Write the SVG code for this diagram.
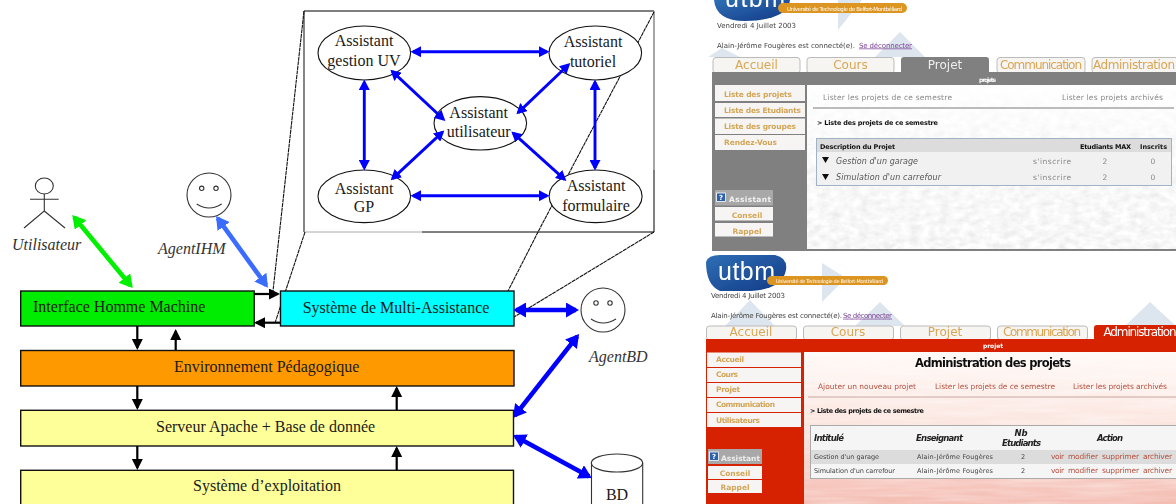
<svg xmlns="http://www.w3.org/2000/svg" width="1176" height="504" viewBox="0 0 1176 504">
<style>
text{font-family:"Liberation Serif","Times New Roman",serif;fill:#1a1a1a}
.t{font-size:16px}
.c{text-anchor:middle}
.i{font-style:italic;font-size:16px;fill:#333}
.n{stroke:#111;stroke-width:1.1;fill:#fff}
.box{stroke:#111;stroke-width:1.4}
.u{fill:none;stroke:#333;stroke-width:1.1}
.lead{fill:none;stroke:#111;stroke-width:1.1;stroke-dasharray:4 .6}
.b{stroke:#0000ff;stroke-width:2.9;fill:none;marker-start:url(#hb);marker-end:url(#hb)}
.B{stroke:#0000ff;stroke-width:4.6;fill:none;marker-start:url(#hB);marker-end:url(#hB)}
.k{stroke:#000;stroke-width:2.2;fill:none;marker-end:url(#hk)}
.w text,.w2 text{font-family:"DejaVu Sans",Verdana,sans-serif;fill:#444;font-size:7px}
.w .tab,.w2 .tab{font-size:12px;fill:#d9a654;text-anchor:middle}
.w .m,.w2 .m{font-weight:bold;fill:#d3a658;font-size:7.5px}
.w .bk,.w2 .bk{font-weight:bold;fill:#111;font-size:6.5px}
.w .l{font-size:7.5px;fill:#888}
.w2 .l{font-size:7.5px;fill:#b5503f}
.w .r{font-style:italic;font-size:8px;fill:#555}
.w2 .h{font-style:italic;font-weight:bold;font-size:8.5px;fill:#222}
.w2 .s{font-size:6.5px;fill:#444}
.w .logo,.w2 .logo{font-family:"Liberation Sans",Arial,sans-serif;font-size:25px;fill:#fff}
.w .q,.w2 .q{font-size:7px;font-weight:bold;fill:#fff;text-anchor:middle}
.tabb{fill:#f7f5f2;stroke:#bbb;stroke-width:1}
.mb{fill:#f6f5f3}
.tri{fill:#dde6ef}
</style>
<defs>
<marker id="hb" markerUnits="userSpaceOnUse" markerWidth="11" markerHeight="11" refX="8" refY="5.5" orient="auto-start-reverse"><path d="M0 0L10.5 5.5L0 11z" fill="#0000ff"/></marker>
<marker id="hB" markerUnits="userSpaceOnUse" markerWidth="15" markerHeight="15" refX="10" refY="7.5" orient="auto-start-reverse"><path d="M0 0L13 7.5L0 15z" fill="#0000ff"/></marker>
<marker id="hG" markerUnits="userSpaceOnUse" markerWidth="15" markerHeight="15" refX="10" refY="7.5" orient="auto-start-reverse"><path d="M0 0L13 7.5L0 15z" fill="#00f000"/></marker>
<marker id="hL" markerUnits="userSpaceOnUse" markerWidth="15" markerHeight="15" refX="10" refY="7.5" orient="auto-start-reverse"><path d="M0 0L13 7.5L0 15z" fill="#3a6cff"/></marker>
<marker id="hk" markerUnits="userSpaceOnUse" markerWidth="12" markerHeight="12" refX="9" refY="5.5" orient="auto"><path d="M0 0L11 5.5L0 11z" fill="#000"/></marker>
<filter id="paper" x="0" y="0" width="1" height="1"><feTurbulence type="fractalNoise" baseFrequency=".1 .16" numOctaves="3" seed="4"/><feColorMatrix type="matrix" values=".3 0 0 0 .78 .3 0 0 0 .78 .3 0 0 0 .78 0 0 0 0 1"/></filter>
<filter id="stripe" x="0" y="0" width="1" height="1"><feTurbulence type="fractalNoise" baseFrequency=".015 .2" numOctaves="2" seed="7"/><feColorMatrix type="matrix" values="0 0 0 0 1 0 0 0 0 1 0 0 0 0 1 1.6 0 0 0 -.55"/></filter>
<filter id="soft" x="0" y="0" width="1" height="1"><feGaussianBlur stdDeviation=".45"/></filter>
<linearGradient id="fade" x1="0" y1="0" x2="0" y2="1"><stop offset="0" stop-color="#fff" stop-opacity=".95"/><stop offset=".45" stop-color="#fff" stop-opacity=".25"/><stop offset="1" stop-color="#fff" stop-opacity="0"/></linearGradient>
<linearGradient id="pink" x1="0" y1="0" x2="0" y2="1"><stop offset="0" stop-color="#fffaf7"/><stop offset=".5" stop-color="#fbe4de"/><stop offset="1" stop-color="#f4bdb2"/></linearGradient>
<linearGradient id="logo" x1="0" y1="0" x2="1" y2="1"><stop offset="0" stop-color="#2f6fb5"/><stop offset="1" stop-color="#123a86"/></linearGradient>
</defs>

<g id="frame" fill="none">
<path d="M304 11H654" stroke="#555" stroke-width="1.3"/>
<path d="M304 11V232" stroke="#333" stroke-width="1.2"/>
<path d="M304 232H422" stroke="#aaa" stroke-width="1"/>
<path d="M422 232H654" stroke="#000" stroke-width="1"/>
<path d="M654 11V170" stroke="#777" stroke-width="1.3"/>
<path d="M654 170V232" stroke="#000" stroke-width="1"/>
</g>
<g id="leaders">
<path class="lead" d="M304 11L273 291"/>
<path class="lead" d="M305 232L275 323"/>
<path class="lead" d="M654 12L538 232L507 293"/>
<path class="lead" d="M654 232L514 317"/>
</g>

<g id="node-gestion"><ellipse class="n" cx="364.300" cy="53" rx="46.300" ry="27"/><text class="t c" x="364" y="46">Assistant</text><text class="t c" x="364" y="66">gestion UV</text></g>
<g id="node-tutoriel"><ellipse class="n" cx="595.300" cy="53" rx="46.300" ry="27"/><text class="t c" x="593" y="46.700">Assistant</text><text class="t c" x="593" y="66.700">tutoriel</text></g>
<g id="node-utilisateur"><ellipse class="n" cx="480.300" cy="123.300" rx="46.300" ry="26.700"/><text class="t c" x="478.700" y="117.700">Assistant</text><text class="t c" x="478.700" y="137.300">utilisateur</text></g>
<g id="node-gp"><ellipse class="n" cx="364.300" cy="196.300" rx="46.300" ry="26.300"/><text class="t c" x="364" y="193.700">Assistant</text><text class="t c" x="364" y="212">GP</text></g>
<g id="node-formulaire"><ellipse class="n" cx="595.600" cy="196.300" rx="46.500" ry="26.300"/><text class="t c" x="596" y="191">Assistant</text><text class="t c" x="596" y="210.700">formulaire</text></g>

<g id="node-utilisateur-actor">
<ellipse class="u" cx="44.300" cy="186" rx="9" ry="8"/>
<path class="u" d="M30 199.300H58.700M44.300 194V211L24 228M44.300 211L65 228"/>
<text class="i" x="12" y="250">Utilisateur</text>
</g>
<g id="node-agentihm">
<circle class="u" cx="209" cy="195" r="22"/><circle class="u" cx="201.700" cy="188.300" r="2.200"/><circle class="u" cx="216" cy="188.300" r="2.200"/>
<path class="u" d="M196.700 204Q209 212 221.700 204"/>
<text class="i" x="158" y="254">AgentIHM</text>
</g>
<g id="node-agentbd">
<circle class="u" cx="603" cy="310" r="22"/><circle class="u" cx="596" cy="303" r="2.200"/><circle class="u" cx="610" cy="303" r="2.200"/>
<path class="u" d="M591 319Q603 327 616 319"/>
<text class="i" x="589" y="362">AgentBD</text>
</g>
<g id="node-bd">
<path class="u" d="M591.500 463V510M642.700 463V510"/>
<ellipse class="u" cx="617" cy="463" rx="25.700" ry="9"/>
<text class="t c" x="617" y="500">BD</text>
</g>

<g id="node-ihm"><rect class="box" x="20.700" y="291" width="233.500" height="35" fill="#00ec00"/><text class="t" x="33" y="311.700">Interface Homme Machine</text></g>
<g id="node-multi"><rect class="box" x="280.500" y="291" width="233.500" height="35" fill="#00ffff"/><text class="t" x="302.700" y="312.700">Système de Multi-Assistance</text></g>
<g id="node-env"><rect class="box" x="20.700" y="350.500" width="493.300" height="35.500" fill="#ff9900"/><text class="t" x="174" y="371.700">Environnement Pédagogique</text></g>
<g id="node-serveur"><rect class="box" x="20.700" y="410.300" width="492.800" height="35.700" fill="#ffff99"/><text class="t" x="156" y="431.700">Serveur Apache + Base de donnée</text></g>
<g id="node-os"><rect class="box" x="20.700" y="470.300" width="492.800" height="45" fill="#ffff99"/><text class="t" x="193" y="491">Système d’exploitation</text></g>

<g id="connectors">
<path class="b" d="M413 51.700H547"/>
<path class="b" d="M413 195.700H547"/>
<path class="b" d="M364.300 82V168"/>
<path class="b" d="M595 82V168"/>
<path class="b" d="M392.200 71.400L443.500 119.300"/>
<path class="b" d="M568.500 64.700L518.200 112.600"/>
<path class="b" d="M442.500 132.100L392.500 178.600"/>
<path class="b" d="M513.200 133.100L564.500 179.300"/>
<path d="M74.200 217.300L130.800 285.700" stroke="#00f000" stroke-width="4.600" fill="none" marker-start="url(#hG)" marker-end="url(#hG)"/>
<path d="M217.800 218.400L266.200 285.300" stroke="#3a6cff" stroke-width="4.600" fill="none" marker-start="url(#hL)" marker-end="url(#hL)"/>
<path class="B" d="M516 310H576"/>
<path class="B" d="M577.200 336.400L514.800 415.600"/>
<path class="B" d="M515.600 436.400L589.100 476.600"/>
<path class="k" d="M254 294H278"/>
<path class="k" d="M280 322.700H256"/>
<path class="k" d="M137.300 326V348"/>
<path class="k" d="M175.700 350V331"/>
<path class="k" d="M137.300 386V408"/>
<path class="k" d="M396.700 410V388"/>
<path class="k" d="M137.300 446V468"/>
<path class="k" d="M396.700 470V448"/>
</g>

<g id="screen-projet" class="w" filter="url(#soft)">
<path class="tri" d="M838 0V30L862 0zM900 32L875 57H925zM722 48L708 57H740z"/>
<path d="M714 0H790Q788 20 745 21Q716 21 714 0z" fill="url(#logo)"/>
<text class="logo" x="725" y="7" textLength="60">utbm</text>
<rect x="778" y="3" width="129" height="10" rx="5" fill="#dd9520"/>
<text x="787" y="10.500" textLength="115" style="font-size:5.5px;fill:#fff">Université de Technologie de Belfort-Montbéliard</text>
<text x="717" y="28" textLength="79">Vendredi 4 Juillet 2003</text>
<text x="717" y="47.500" textLength="138">Alain-Jérôme Fougères est connecté(e).</text>
<text x="859" y="47.500" textLength="53" text-decoration="underline" style="fill:#7a3f92">Se déconnecter</text>
<rect class="tabb" x="713" y="57.500" width="87" height="16" rx="3"/>
<rect class="tabb" x="807" y="57.500" width="87" height="16" rx="3"/>
<rect x="901" y="57" width="88" height="17" rx="3" fill="#808080"/>
<rect class="tabb" x="997" y="57.500" width="88" height="16" rx="3"/>
<rect class="tabb" x="1092" y="57.500" width="90" height="16" rx="3"/>
<text class="tab" x="756.500" y="69">Accueil</text><text class="tab" x="850.500" y="69">Cours</text><text class="tab" x="945" y="69" style="fill:#eee">Projet</text><text class="tab" x="1041" y="69" textLength="82">Communication</text><text class="tab" x="1134" y="69" textLength="82">Administration</text>
<rect x="712" y="72" width="464" height="179" fill="#808080"/>
<text x="979" y="82" textLength="17" style="fill:#fff;font-weight:bold;font-size:6px">projets</text>
<rect x="807" y="85" width="369" height="164" filter="url(#paper)"/>
<rect x="807" y="85" width="369" height="164" fill="url(#fade)"/>
<path d="M813 108H1174" stroke="#bbb" stroke-width="2"/>
<g class="mb"><rect x="715" y="85" width="90" height="16"/><rect x="715" y="103" width="90" height="14"/><rect x="715" y="118.500" width="90" height="15.500"/><rect x="715" y="135" width="90" height="15"/></g>
<text class="m" x="724" y="96.700" textLength="68">Liste des projets</text>
<text class="m" x="724" y="112.700" textLength="77">Liste des Etudiants</text>
<text class="m" x="724" y="129.300" textLength="72">Liste des groupes</text>
<text class="m" x="724" y="145" textLength="53">Rendez-Vous</text>
<text class="l" x="823" y="100" textLength="129">Lister les projets de ce semestre</text>
<text class="l" x="1062" y="100" textLength="101">Lister les projets archivés</text>
<text class="bk" x="817" y="125" textLength="121">&gt; Liste des projets de ce semestre</text>
<rect x="816.500" y="138.500" width="355" height="47" fill="#f1f1f1" stroke="#9fb2c6"/>
<rect x="817" y="139" width="354" height="13" fill="#dcdcdc"/>
<text class="bk" x="820" y="149" textLength="75">Description du Projet</text>
<text class="bk" x="1080" y="149" textLength="51">Etudiants MAX</text>
<text class="bk" x="1140" y="149" textLength="27">Inscrits</text>
<path d="M822 157H829L825.500 163zM822 174H829L825.500 180z" fill="#111"/>
<text class="r" x="836" y="163.700" textLength="82">Gestion d'un garage</text>
<text class="r" x="836" y="180" textLength="105">Simulation d'un carrefour</text>
<text class="l" x="1033" y="163.700" textLength="38">s'inscrire</text><text class="l" x="1033" y="180" textLength="38">s'inscrire</text>
<text class="l c" x="1105" y="163.700">2</text><text class="l c" x="1105" y="180">2</text>
<text class="l c" x="1153" y="163.700">0</text><text class="l c" x="1153" y="180">0</text>
<rect x="715" y="190" width="58" height="15.500" fill="#a8a8a8"/>
<rect x="716.500" y="193" width="9" height="8.500" fill="#2f62a8" stroke="#fff" stroke-width=".8"/>
<text class="q" x="721" y="200">?</text>
<text x="729" y="201.500" textLength="42" style="fill:#f2f2f2;font-weight:bold;font-size:7.500px">Assistant</text>
<rect class="mb" x="715" y="207" width="58" height="13.500"/><rect class="mb" x="715" y="223" width="58" height="13.500"/>
<text class="m c" x="747" y="217.500">Conseil</text><text class="m c" x="747" y="233.500">Rappel</text>
</g>

<g id="screen-admin" class="w2" filter="url(#soft)">
<path class="tri" d="M822 263V302L846 278zM880 302L855 326H905zM1150 302L1125 326H1176zM750 300L725 326H775z"/>
<path d="M706 262Q708 255 720 255H775Q788 258 786 270Q782 291 745 291H720Q706 285 706 262z" fill="url(#logo)"/>
<text class="logo" x="718" y="280" textLength="57">utbm</text>
<rect x="767" y="276" width="121" height="9" rx="4.500" fill="#dd9520"/>
<text x="776" y="283" textLength="107" style="font-size:5px;fill:#fff">Université de Technologie de Belfort-Montbéliard</text>
<text x="711" y="298" textLength="74">Vendredi 4 Juillet 2003</text>
<text x="711" y="317.700" textLength="131">Alain-Jérôme Fougères est connecté(e).</text>
<text x="843" y="317.700" textLength="49" text-decoration="underline" style="fill:#7a3f92">Se déconnecter</text>
<rect class="tabb" x="706.500" y="326" width="90" height="14" rx="3"/>
<rect class="tabb" x="803.500" y="326" width="90" height="14" rx="3"/>
<rect class="tabb" x="900.500" y="326" width="90" height="14" rx="3"/>
<rect class="tabb" x="997.500" y="326" width="90" height="14" rx="3"/>
<rect x="1094" y="325" width="90" height="16" rx="3" fill="#d62306"/>
<text class="tab" x="751" y="335.500">Accueil</text><text class="tab" x="848" y="335.500">Cours</text><text class="tab" x="945" y="335.500">Projet</text><text class="tab" x="1042" y="335.500" textLength="78">Communication</text><text class="tab" x="1140" y="335.500" textLength="73" style="fill:#fff">Administration</text>
<rect x="706" y="339" width="470" height="165" fill="#d62306"/>
<text x="983" y="348" textLength="20" style="fill:#fff;font-weight:bold;font-size:6px">projet</text>
<rect x="804" y="352" width="372" height="152" fill="url(#pink)"/>
<rect x="804" y="352" width="372" height="152" filter="url(#stripe)" opacity=".45"/>
<g class="mb"><rect x="707" y="352.500" width="94" height="14.500"/><rect x="707" y="368" width="94" height="14"/><rect x="707" y="383" width="94" height="14"/><rect x="707" y="398" width="94" height="14"/><rect x="707" y="413" width="94" height="14"/></g>
<text class="m" x="716" y="362" textLength="28">Accueil</text>
<text class="m" x="716" y="377" textLength="22">Cours</text>
<text class="m" x="716" y="392" textLength="24">Projet</text>
<text class="m" x="716" y="407" textLength="59">Communication</text>
<text class="m" x="716" y="422.700" textLength="44">Utilisateurs</text>
<text x="915" y="367" textLength="156" style="font-size:11.500px;font-weight:bold;fill:#111">Administration des projets</text>
<text class="l" x="818" y="389" textLength="98">Ajouter un nouveau projet</text>
<text class="l" x="935" y="389" textLength="120">Lister les projets de ce semestre</text>
<text class="l" x="1073" y="389" textLength="94">Lister les projets archivés</text>
<path d="M808 397H1176" stroke="#c8a8a0" stroke-width="1"/>
<text class="bk" x="810" y="412.700" textLength="114">&gt; Liste des projets de ce semestre</text>
<rect x="810.500" y="425.500" width="370" height="53" fill="#f5f5f5" stroke="#aaa"/>
<rect x="811" y="450" width="365" height="14" fill="#dcdcdc"/>
<text class="h" x="814" y="440.700" textLength="30">Intitulé</text>
<text class="h" x="916" y="440.700" textLength="47">Enseignant</text>
<text class="h c" x="1021" y="436">Nb</text>
<text class="h" x="1002" y="445.700" textLength="39">Etudiants</text>
<text class="h" x="1097" y="440.700" textLength="26">Action</text>
<text class="s" x="814" y="459" textLength="65">Gestion d'un garage</text>
<text class="s" x="814" y="473" textLength="81">Simulation d'un carrefour</text>
<text class="s" x="917" y="459" textLength="76">Alain-Jérôme  Fougères</text>
<text class="s" x="917" y="473" textLength="76">Alain-Jérôme  Fougères</text>
<text class="s c" x="1023" y="459">2</text><text class="s c" x="1023" y="473">2</text>
<text class="l" x="1051" y="459" textLength="13">voir</text><text class="l" x="1068" y="459" textLength="30">modifier</text><text class="l" x="1102" y="459" textLength="37">supprimer</text><text class="l" x="1143" y="459" textLength="29">archiver</text>
<text class="l" x="1051" y="473" textLength="13">voir</text><text class="l" x="1068" y="473" textLength="30">modifier</text><text class="l" x="1102" y="473" textLength="37">supprimer</text><text class="l" x="1143" y="473" textLength="29">archiver</text>
<rect x="708" y="449" width="54" height="15" fill="#a8a8a8"/>
<rect x="709.500" y="452" width="9" height="8.500" fill="#2f62a8" stroke="#fff" stroke-width=".8"/>
<text class="q" x="714" y="459">?</text>
<text x="721" y="460.500" textLength="39" style="fill:#eee;font-weight:bold;font-size:7.500px">Assistant</text>
<rect class="mb" x="708" y="466" width="54" height="13"/><rect class="mb" x="708" y="480" width="54" height="13"/>
<text class="m c" x="735" y="475.500">Conseil</text><text class="m c" x="735" y="489.500">Rappel</text>
</g>
</svg>
